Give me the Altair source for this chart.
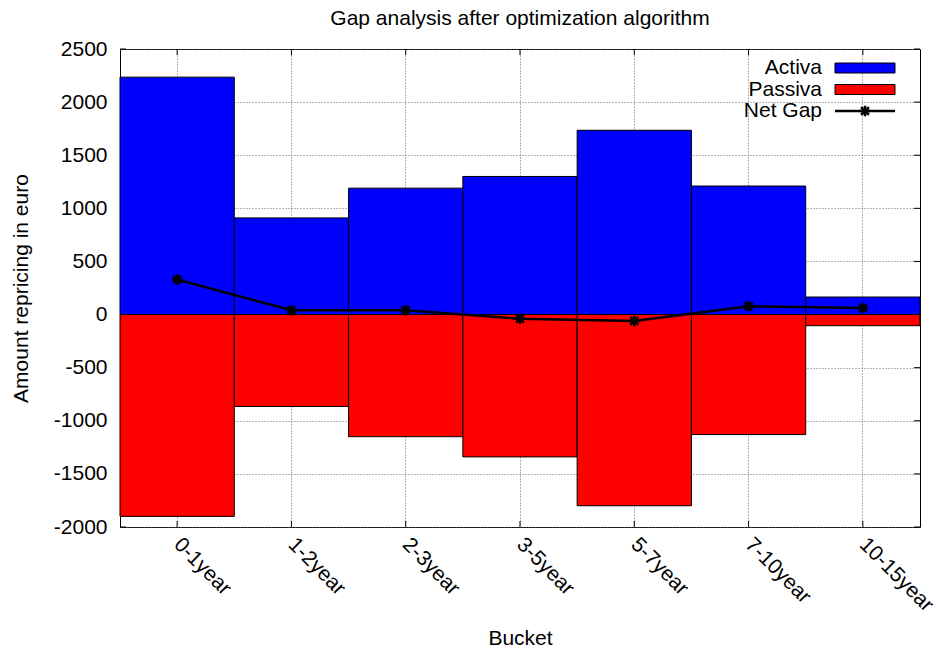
import altair as alt
import pandas as pd

# Repricing buckets and amounts (euro)
buckets = ["0-1year", "1-2year", "2-3year", "3-5year", "5-7year", "7-10year", "10-15year"]
activa = [2235, 910, 1190, 1300, 1735, 1210, 165]
passiva = [-1900, -865, -1150, -1340, -1800, -1130, -105]
net_gap = [330, 40, 40, -40, -60, 78, 62]

series_names = ["Activa", "Passiva"]
series_colors = ["#0000ff", "#ff0000"]
gap_name = "Net Gap"
y_ticks = list(range(-2000, 2501, 500))

W, H = 800, 478
FONT = "Liberation Sans"
FS = 21
GRID_DASH = [1, 2]
# asterisk-like marker (plus + cross)
STAR = "M-1,0L1,0M0,-1L0,1M-0.75,-0.75L0.75,0.75M-0.75,0.75L0.75,-0.75"

bars_df = pd.DataFrame({
    "bucket": buckets * 2,
    "series": [series_names[0]] * len(buckets) + [series_names[1]] * len(buckets),
    "value": activa + passiva,
})
gap_df = pd.DataFrame({"bucket": buckets, "value": net_gap})
ytick_df = pd.DataFrame({"value": y_ticks})
xtick_df = pd.DataFrame({"bucket": buckets})

x_enc = alt.X(
    "bucket:N", sort=buckets, title="Bucket",
    scale=alt.Scale(paddingInner=0, paddingOuter=0),
    axis=alt.Axis(
        labelAngle=45, labelAlign="left", labelBaseline="middle", labelPadding=14,
        ticks=False, tickSize=0, domain=False, bandPosition=0.5,
        grid=True, gridDash=GRID_DASH, gridColor="#666666", gridWidth=1,
        titleY=117, titleX=W / 2, titleBaseline="alphabetic",
    ),
)
y_enc = alt.Y(
    "value:Q", title="Amount repricing in euro", stack=None,
    scale=alt.Scale(domain=[-2000, 2500], nice=False, zero=False),
    axis=alt.Axis(
        values=y_ticks, labelExpr="datum.value + ''", ticks=False, tickSize=0,
        domain=False, labelPadding=13,
        grid=True, gridDash=GRID_DASH, gridColor="#666666", gridWidth=1,
        titleX=-93, titleY=H / 2, titleBaseline="alphabetic", titleAlign="center",
    ),
)

# inward tick marks on all four sides
yt_left = alt.Chart(ytick_df).mark_rule(color="black", strokeWidth=1).encode(
    y=y_enc, x=alt.value(0), x2=alt.value(6))
yt_right = alt.Chart(ytick_df).mark_rule(color="black", strokeWidth=1).encode(
    y=y_enc, x=alt.value(W - 6), x2=alt.value(W))
xt_bottom = alt.Chart(xtick_df).mark_rule(color="black", strokeWidth=1).encode(
    x=x_enc, y=alt.value(H - 6), y2=alt.value(H))
xt_top = alt.Chart(xtick_df).mark_rule(color="black", strokeWidth=1).encode(
    x=x_enc, y=alt.value(0), y2=alt.value(6))

bars = alt.Chart(bars_df).mark_bar(stroke="black", strokeWidth=1, opacity=1).encode(
    x=x_enc,
    y=y_enc,
    color=alt.Color("series:N", scale=alt.Scale(domain=series_names, range=series_colors), legend=None),
)

gap_line = alt.Chart(gap_df).mark_line(color="black", strokeWidth=2.5).encode(x=x_enc, y=y_enc)
gap_pts = alt.Chart(gap_df).mark_point(
    shape=STAR, size=110, filled=False, stroke="black", strokeWidth=2.5, opacity=1
).encode(x=x_enc, y=y_enc)

# key in the upper right corner: label, then sample
LX, SX0, SX1 = 702, 715, 775
ROW0, ROWH = 19, 21.5
legend_layers = []
for i, (name, col) in enumerate(zip(series_names, series_colors)):
    yy = ROW0 + ROWH * i
    d = pd.DataFrame({"label": [name]})
    legend_layers.append(alt.Chart(d).mark_text(
        align="right", baseline="middle", font=FONT, fontSize=FS, color="black"
    ).encode(text="label:N", x=alt.value(LX), y=alt.value(yy)))
    legend_layers.append(alt.Chart(d).mark_rect(fill=col, stroke="black", strokeWidth=1).encode(
        x=alt.value(SX0), x2=alt.value(SX1), y=alt.value(yy - 5), y2=alt.value(yy + 5)))

yy = ROW0 + ROWH * 2
dg = pd.DataFrame({"label": [gap_name]})
legend_layers.append(alt.Chart(dg).mark_text(
    align="right", baseline="middle", font=FONT, fontSize=FS, color="black"
).encode(text="label:N", x=alt.value(LX), y=alt.value(yy)))
legend_layers.append(alt.Chart(dg).mark_rule(color="black", strokeWidth=2.5).encode(
    x=alt.value(SX0), x2=alt.value(SX1), y=alt.value(yy)))
legend_layers.append(alt.Chart(dg).mark_point(
    shape=STAR, size=110, filled=False, stroke="black", strokeWidth=2.5, opacity=1
).encode(x=alt.value((SX0 + SX1) / 2), y=alt.value(yy)))

chart = alt.layer(
    yt_left, yt_right, xt_bottom, xt_top, bars, gap_line, gap_pts, *legend_layers
).properties(
    width=W, height=H,
    title=alt.TitleParams(
        "Gap analysis after optimization algorithm",
        font=FONT, fontSize=FS, fontWeight="normal", color="black",
        anchor="middle", offset=9,
    ),
    autosize=alt.AutoSizeParams(type="none"),
    padding={"left": 120, "top": 49, "right": 18, "bottom": 126},
).configure(
    background="white"
).configure_view(
    stroke="black", strokeWidth=1
).configure_axis(
    labelFont=FONT, labelFontSize=FS, labelColor="black",
    titleFont=FONT, titleFontSize=FS, titleFontWeight="normal", titleColor="black",
)

chart.save("out.html", embed_options={"renderer": "svg", "actions": False})
